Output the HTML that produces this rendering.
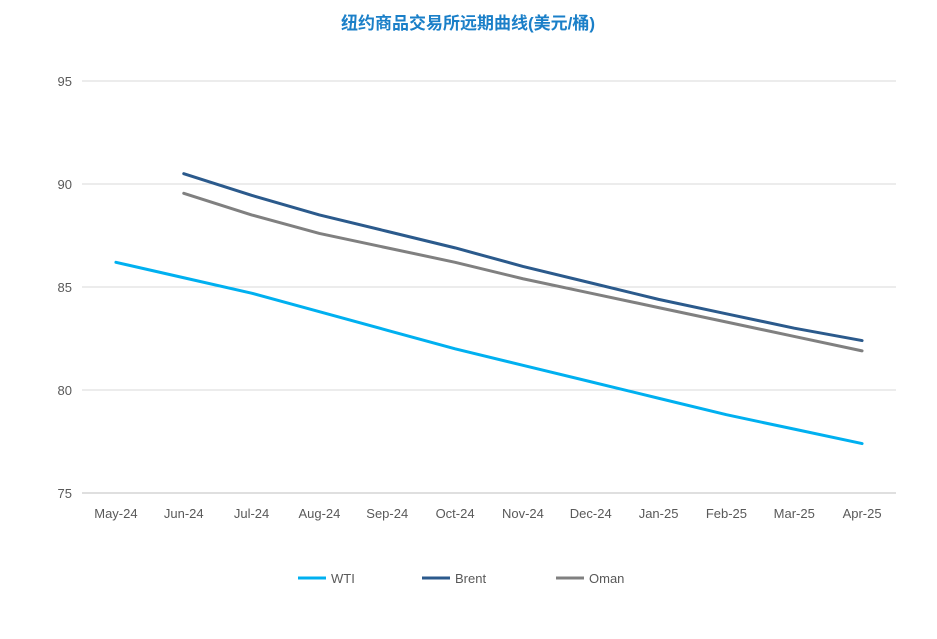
<!DOCTYPE html>
<html><head><meta charset="utf-8">
<style>
body{margin:0;background:#fff;width:937px;height:634px;overflow:hidden;font-family:"Liberation Sans","Noto Sans CJK SC",sans-serif;}
</style></head>
<body>
<svg id="chart" width="937" height="634" xmlns="http://www.w3.org/2000/svg">
<text x="468" y="29" text-anchor="middle" font-size="17" font-weight="bold" fill="#1a7fc8" font-family="Liberation Sans, Noto Sans CJK SC, sans-serif">纽约商品交易所远期曲线(美元/桶)</text>
<g id="grid"></g><g id="xlabels"></g><g id="series"></g><g id="legend"></g>
</svg>
<script>
const categories=["May-24","Jun-24","Jul-24","Aug-24","Sep-24","Oct-24","Nov-24","Dec-24","Jan-25","Feb-25","Mar-25","Apr-25"];
const wti=[86.2,85.45,84.7,83.8,82.9,82.0,81.2,80.4,79.6,78.8,78.1,77.4];
const brent=[null,90.5,89.45,88.5,87.7,86.9,86.0,85.2,84.4,83.7,83.0,82.4];
const oman=[null,89.55,88.5,87.6,86.9,86.2,85.4,84.7,84.0,83.3,82.6,81.9];
const yTicks=[75,80,85,90,95];
const seriesNames=["WTI","Brent","Oman"];
const colors=["#00b0f0","#2b5a8c","#808080"];
const NS="http://www.w3.org/2000/svg";
const L=82,R=896,T=81,B=493,yMin=75,yMax=95;
const bw=(R-L)/categories.length;
const x=i=>L+bw*(i+0.5);
const y=v=>B-(v-yMin)/(yMax-yMin)*(B-T);
function mk(tag,attrs,parent){const e=document.createElementNS(NS,tag);for(const k in attrs)e.setAttribute(k,attrs[k]);parent.appendChild(e);return e;}
const grid=document.getElementById('grid');
yTicks.forEach(t=>{
 const ln=mk('line',{x1:L,x2:R,y1:y(t),y2:y(t),stroke:t===75?'#bfbfbf':'#d9d9d9','stroke-width':1},grid);
 
 
 const tx=mk('text',{x:72,y:y(t)+5,'text-anchor':'end','font-size':13,fill:'#595959'},grid);
 tx.textContent=t;
 
 
});
const xl=document.getElementById('xlabels');
categories.forEach((c,i)=>{
 const tx=mk('text',{x:x(i),y:518,'text-anchor':'middle','font-size':13,fill:'#595959'},xl);
 tx.textContent=c;
 
 
});
const sg=document.getElementById('series');
[wti,brent,oman].forEach((d,si)=>{
 const pts=[];d.forEach((v,i)=>{if(v!==null)pts.push(x(i)+','+y(v));});
 const p=mk('polyline',{points:pts.join(' '),fill:'none',stroke:colors[si],'stroke-width':3,'stroke-linejoin':'round','stroke-linecap':'round'},sg);
 
 
});
const lg=document.getElementById('legend');
const lx=[298,422,556];
seriesNames.forEach((n,i)=>{
 const g=mk('g',{},lg);
 
 
 mk('line',{x1:lx[i],x2:lx[i]+28,y1:578,y2:578,stroke:colors[i],'stroke-width':3},g);
 const t=mk('text',{x:lx[i]+33,y:583,'font-size':13,fill:'#595959'},g);
 t.textContent=n;
});
</script>
</body></html>
